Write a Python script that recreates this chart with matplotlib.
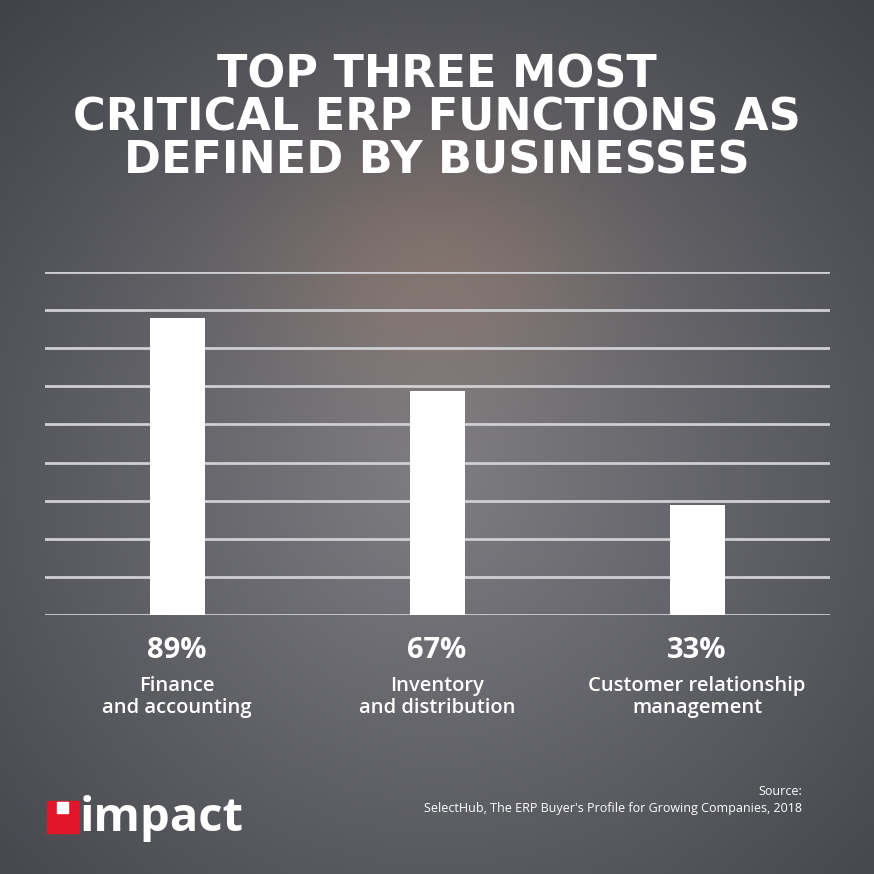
import numpy as np
import matplotlib
matplotlib.use("Agg")
import matplotlib.pyplot as plt
from matplotlib.patches import Rectangle

categories = ["Finance\nand accounting", "Inventory\nand distribution", "Customer relationship\nmanagement"]
values = [89, 67, 33]
value_labels = ["89%", "67%", "33%"]
title = "TOP THREE MOST\nCRITICAL ERP FUNCTIONS AS\nDEFINED BY BUSINESSES"
source = "Source:\nSelectHub, The ERP Buyer's Profile for Growing Companies, 2018"

W = H = 874
fig = plt.figure(figsize=(8.74, 8.74), dpi=100)

# background
bg = fig.add_axes([0, 0, 1, 1])
yy, xx = np.mgrid[0:1:200j, 0:1:200j]
base = np.array([125, 125, 130]) / 255
edge = np.array([60, 62, 68]) / 255
r = np.sqrt((xx - 0.5) ** 2 + (yy - 0.55) ** 2) / 0.8
t = np.clip(r, 0, 1)[..., None]
img = base * (1 - t) + edge * t
warm = np.exp(-(((xx - 0.5) / 0.2) ** 2 + ((yy - 0.3) / 0.15) ** 2))[..., None]
img = img + warm * (np.array([25, 10, 0]) / 255)
bg.imshow(np.clip(img, 0, 1), extent=[0, 1, 0, 1], aspect="auto", origin="upper")
bg.set_xlim(0, 1); bg.set_ylim(0, 1); bg.axis("off")

# chart
ax = fig.add_axes([45 / W, 1 - 615 / H, 785 / W, 343 / H])
ax.patch.set_alpha(0)
ymax = 89 * 343 / 297
for i in range(10):
    ax.axhline(ymax * i / 9, color="#cfcfd3", lw=2, zorder=1)
x = np.arange(len(values))
ax.bar(x, values, width=55 / 260, color="white", zorder=2)
ax.set_xlim(-132 / 260, 653 / 260)
ax.set_ylim(0, ymax)
ax.axis("off")

for xi, vl, cat in zip(x, value_labels, categories):
    xf = (177 + 260 * xi) / W
    fig.text(xf, 1 - 650 / H, vl, ha="center", va="center", color="white",
             fontsize=21, fontweight="bold", family="Open Sans")
    fig.text(xf, 1 - 697 / H, cat, ha="center", va="center", color="white",
             fontsize=14.5, fontweight="semibold", family="Open Sans", linespacing=1.1)

fig.text(0.5, 1 - 118 / H, title, ha="center", va="center", color="white",
         fontsize=32, fontweight="bold", family="DejaVu Sans", linespacing=1.0)

fig.text(802 / W, 1 - 800 / H, source, ha="right", va="center", color="white",
         fontsize=9, family="Open Sans", linespacing=1.4, multialignment="right")

# logo
fig.patches.append(Rectangle((47 / W, 1 - 833 / H), 32 / W, 32 / H, transform=fig.transFigure,
                             color="#e3152b"))
fig.patches.append(Rectangle((57 / W, 1 - 813 / H), 11 / W, 11 / H, transform=fig.transFigure,
                             color="white"))
fig.text(80 / W, 1 - 818 / H, "impact", ha="left", va="center", color="white",
         fontsize=34, fontweight="bold", family="Open Sans")

fig.savefig("out.png", dpi=100)
